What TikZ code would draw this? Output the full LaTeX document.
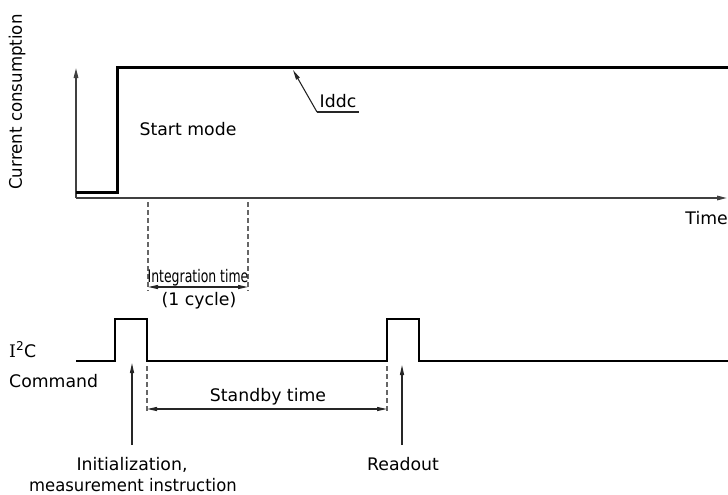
\documentclass[tikz,border=0pt]{standalone}
\usepackage{fontspec}
\setmainfont{DejaVu Sans}
\newfontfamily\serifI{DejaVu Serif}
\usetikzlibrary{arrows.meta}
\begin{document}
\begin{tikzpicture}[x=1pt,y=-1pt,
  lbl/.style={font=\fontsize{17.3}{20}\selectfont, inner sep=0pt, text=black},
  axisline/.style={draw=black!75, line width=1.5pt, -{Triangle[length=10pt,width=4.5pt]}},
  curve/.style={draw=black, line width=3pt},
  sig/.style={draw=black, line width=1.4pt},
  guide/.style={draw=black!60, line width=1.1pt, dash pattern=on 5pt off 3pt},
  dim/.style={draw=black!85, line width=1.1pt, {Triangle[length=10pt,width=4pt]}-{Triangle[length=10pt,width=4pt]}},
  ptr/.style={draw=black!85, line width=1.1pt, -{Triangle[length=10pt,width=4pt]}}]
\useasboundingbox (0,0) rectangle (728,495);
% axes
\coordinate (o) at (76,198);
\coordinate (ytop) at (76,68);
\coordinate (xend) at (727,198);
\draw[axisline] (o) -- (ytop);
\draw[axisline] (o) -- (xend);
\node[lbl, rotate=90] (ylab) at (17,102) {\scalebox{0.96}[1]{Current consumption}};
\node[lbl, anchor=base east] (xlab) at (728,224) {Time};
% current curve
\coordinate (c0) at (76,192);
\coordinate (c1) at (117,192);
\coordinate (c2) at (117,68);
\coordinate (c3) at (728,68);
\draw[curve] (c0) -- (c1) -- (c2) -- (c3);
\node[lbl, anchor=base] (start) at (188,135) {Start mode};
% Iddc leader
\coordinate (itip) at (293,70);
\coordinate (iknee) at (317,112);
\coordinate (iend) at (359,112);
\draw[ptr] (iknee) -- (itip);
\draw[draw=black!85, line width=1.1pt] (iknee) -- (iend);
\node[lbl, anchor=base] (iddc) at (338,107) {Iddc};
% integration time
\coordinate (d1a) at (148,202);
\coordinate (d1b) at (148,291);
\coordinate (d2a) at (248,202);
\coordinate (d2b) at (248,291);
\draw[guide] (d1a) -- (d1b);
\draw[guide] (d2a) -- (d2b);
\coordinate (ia) at (148,287);
\coordinate (ib) at (248,287);
\draw[dim] (ia) -- (ib);
\node[lbl, anchor=base] (integ) at (198,282) {\scalebox{0.72}[1]{Integration time}};
\node[lbl, anchor=base] (cycle) at (199,305) {(1 cycle)};
% I2C command signal
\coordinate (s0) at (76,361);
\coordinate (s1) at (115,361);
\coordinate (s2) at (115,319);
\coordinate (s3) at (147,319);
\coordinate (s4) at (147,361);
\coordinate (s5) at (387,361);
\coordinate (s6) at (387,319);
\coordinate (s7) at (419,319);
\coordinate (s8) at (419,361);
\coordinate (s9) at (728,361);
\draw[sig] (s0) -- (s1) -- (s2) -- (s3) -- (s4) -- (s5) -- (s6) -- (s7) -- (s8) -- (s9);
\node[lbl, anchor=base west] (i2c) at (9,357) {{\serifI I}\textsuperscript{2}C};
\node[lbl, anchor=base west] (cmd) at (9,387) {Command};
% standby time
\coordinate (g1a) at (147,366);
\coordinate (g1b) at (147,412);
\coordinate (g2a) at (387,366);
\coordinate (g2b) at (387,412);
\draw[guide] (g1a) -- (g1b);
\draw[guide] (g2a) -- (g2b);
\coordinate (sa) at (147,409);
\coordinate (sb) at (387,409);
\draw[dim] (sa) -- (sb);
\node[lbl, anchor=base] (standby) at (268,401) {Standby time};
% pointers
\coordinate (p1a) at (132,445);
\coordinate (p1b) at (132,363);
\coordinate (p2a) at (402,445);
\coordinate (p2b) at (402,365);
\draw[ptr] (p1a) -- (p1b);
\draw[ptr] (p2a) -- (p2b);
\node[lbl, anchor=base] (init) at (132,470) {Initialization,};
\node[lbl, anchor=base] (meas) at (133,491) {\scalebox{0.95}[1]{measurement instruction}};
\node[lbl, anchor=base] (readout) at (403,470) {Readout};
\end{tikzpicture}
\end{document}
